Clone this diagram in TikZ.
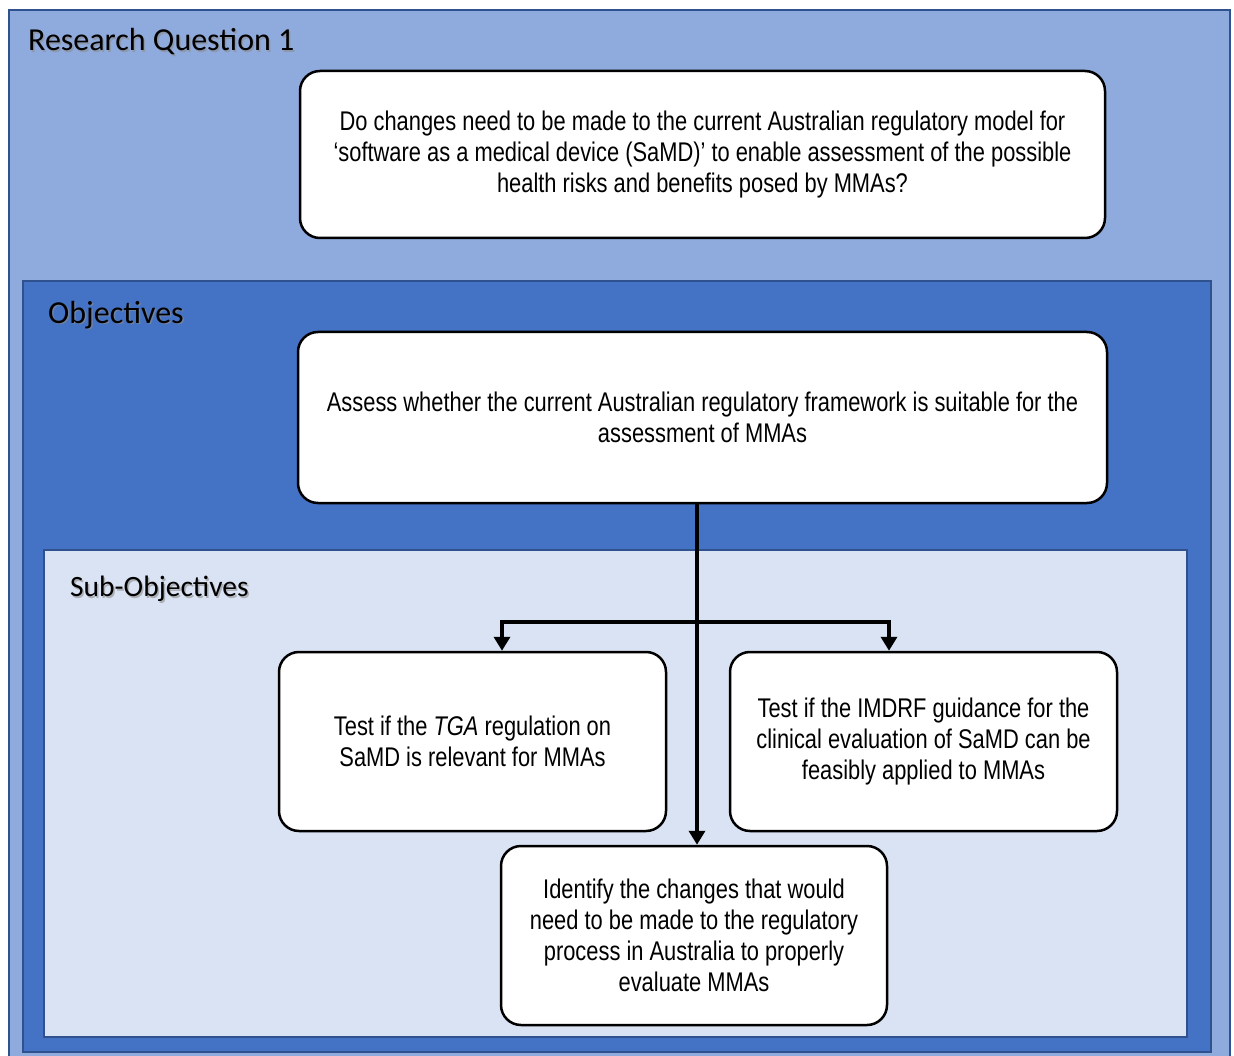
\documentclass[tikz,border=0pt]{standalone}
\usepackage{fontspec}
\setmainfont[FakeStretch=0.81]{Liberation Sans}
\newfontfamily\titlefont{Carlito}
\usetikzlibrary{arrows.meta}
\definecolor{outerfill}{HTML}{8FAADC}
\definecolor{objfill}{HTML}{4472C4}
\definecolor{subfill}{HTML}{DAE3F3}
\definecolor{frame}{HTML}{2F528F}
\tikzset{
  panel/.style={draw=frame, line width=2pt},
  box/.style={draw=black, fill=white, line width=2.5pt, rounded corners=20pt, align=center,
    font=\fontsize{27}{31}\selectfont, inner sep=0pt},
  ttl/.style={anchor=west, font=\titlefont\fontsize{32}{36}\selectfont, inner sep=0pt},
  subttl/.style={ttl, font=\titlefont\fontsize{29.5}{34}\selectfont},
  conn/.style={line width=4.5pt, -{Triangle[width=16pt,length=14pt]}}
}
\newcommand{\shadowtitle}[5]{%
  \node[#1, text=black!45, opacity=0.6] (#4s) at (#2+1.5,#3+1.5) {#5};
  \node[#1] (#4) at (#2,#3) {#5};}
\begin{document}
\begin{tikzpicture}[x=1pt,y=-1pt]
\useasboundingbox (0,0) rectangle (1234,1056);
\fill[white] (0,0) rectangle (1234,1056);
\begin{scope}
\clip (0,0) rectangle (1234,1056);
\draw[panel, fill=outerfill] (9,10) rectangle (1230,1066);
\draw[panel, fill=objfill] (23,281) rectangle (1211,1052);
\draw[panel, fill=subfill] (44,550) rectangle (1187,1037);
\end{scope}

\shadowtitle{ttl}{28}{42}{t1}{Research Question 1}
\shadowtitle{ttl}{48}{315}{t2}{Objectives}
\shadowtitle{subttl}{70}{589}{t3}{Sub-Objectives}

\node[box, minimum width=805pt, minimum height=167pt] (rq) at (702.5,154.5)
  {Do changes need to be made to the current Australian regulatory model for\\
   `software as a medical device (SaMD)' to enable assessment of the possible\\
   health risks and benefits posed by MMAs?};
\node[box, minimum width=809pt, minimum height=171pt] (obj) at (702.5,417.5)
  {Assess whether the current Australian regulatory framework is suitable for the\\
   assessment of MMAs};
\node[box, minimum width=387pt, minimum height=179pt] (tga) at (472.5,741.5)
  {Test if the \textit{TGA} regulation on\\ SaMD is relevant for MMAs};
\node[box, minimum width=387pt, minimum height=179pt] (imdrf) at (923.5,741.5)
  {Test if the IMDRF guidance for the\\ clinical evaluation of SaMD can be\\ feasibly applied to MMAs};
\node[box, minimum width=386pt, minimum height=179pt] (ident) at (694,935.5)
  {Identify the changes that would\\ need to be made to the regulatory\\ process in Australia to properly\\ evaluate MMAs};

\coordinate (j) at (697,622);
\draw[conn] (obj.south -| j) -- (ident.north -| j);
\draw[conn] (j) -| ([xshift=29.5pt]tga.north);
\draw[conn] (j) -| ([xshift=-34.5pt]imdrf.north);
\end{tikzpicture}
\end{document}
